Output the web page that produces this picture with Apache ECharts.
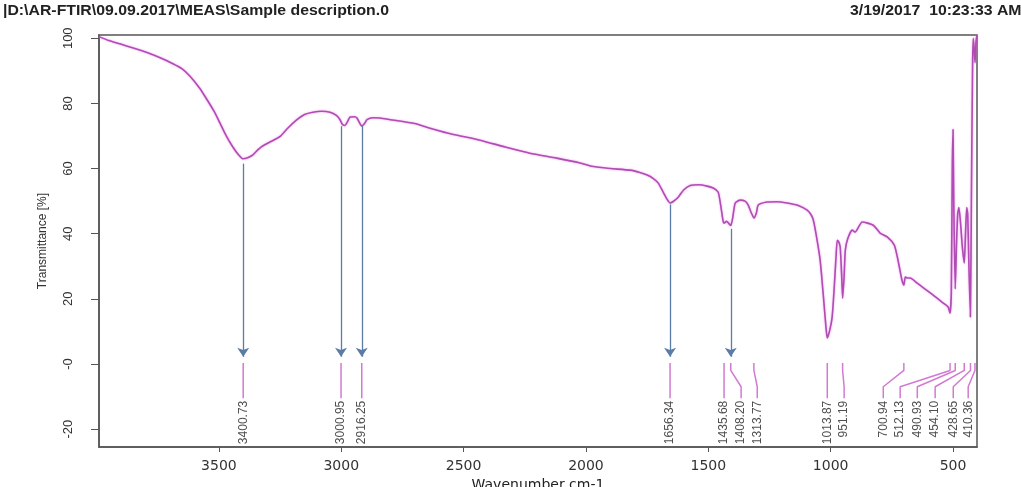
<!DOCTYPE html>
<html>
<head>
<meta charset="utf-8">
<script src="https://cdn.jsdelivr.net/npm/echarts@6/dist/echarts.min.js"></script>
<style>
  html, body { margin: 0; padding: 0; background: #fff; }
  #chart { width: 1021px; height: 487px; }
</style>
</head>
<body>
<div id="chart"></div>
<script>
// spectrum (wavenumber, transmittance %)
const wavenumbers = [3990, 3950, 3905, 3850, 3794, 3740, 3688, 3650, 3619, 3580, 3549, 3520, 3496, 3470, 3443, 3420, 3402, 3380, 3361, 3340,
  3320, 3290, 3251, 3220, 3181, 3150, 3116, 3080, 3046, 3020, 3005, 2995, 2985, 2975, 2964, 2945, 2936, 2925, 2916, 2905,
  2895, 2870, 2842, 2800, 2700, 2637, 2550, 2433, 2330, 2229, 2120, 2024, 1971, 1900, 1820, 1780, 1750, 1726, 1705, 1685,
  1668, 1656, 1645, 1623, 1600, 1574, 1540, 1505, 1480, 1460, 1450, 1440, 1436, 1425, 1415, 1408, 1400, 1390, 1370, 1350,
  1337, 1325, 1313, 1303, 1296, 1260, 1220, 1178, 1130, 1096, 1080, 1071, 1060, 1043, 1030, 1020, 1014, 1005, 994, 985,
  978, 973, 967, 961, 955, 951, 945, 940, 930, 912, 900, 871, 826, 798, 769, 740, 728, 716, 708, 701,
  695, 688, 675, 646, 593, 540, 520, 512, 507, 503, 500, 497, 491, 486, 481, 476, 470, 462, 454, 449,
  444, 440, 435, 429, 425, 420, 417, 413, 410, 406, 402];
const transmittance = [100.5, 99.3, 98.3, 97.0, 95.6, 94.0, 92.2, 90.6, 88.4, 84.8, 81.2, 77.6, 74.0, 70.0, 66.6, 64.2, 63.0, 63.4, 64.2, 65.8,
  67.0, 68.2, 69.8, 72.3, 75.0, 76.6, 77.3, 77.6, 77.3, 76.3, 75.0, 73.5, 73.2, 74.3, 75.8, 75.9, 75.5, 74.0, 73.0, 73.8,
  75.0, 75.6, 75.5, 75.0, 73.8, 72.4, 70.6, 68.7, 66.6, 64.7, 63.2, 61.7, 60.6, 60.0, 59.5, 58.8, 58.0, 57.0, 55.6, 52.8,
  50.5, 49.4, 49.8, 51.2, 53.5, 54.8, 55.0, 54.6, 54.0, 52.8, 49.0, 44.0, 43.2, 43.8, 43.0, 42.5, 45.0, 49.4, 50.3, 50.0,
  48.8, 46.5, 44.8, 46.5, 48.8, 49.7, 49.8, 49.4, 48.6, 47.2, 45.8, 44.2, 40.0, 31.9, 21.0, 12.0, 8.0, 10.0, 14.4, 24.0,
  33.0, 38.0, 37.5, 35.9, 27.0, 20.2, 27.0, 35.0, 38.5, 41.1, 40.5, 43.6, 42.6, 40.2, 39.0, 36.5, 33.0, 28.5, 25.5, 24.2,
  26.7, 26.4, 26.4, 24.8, 21.8, 18.7, 17.5, 15.6, 22.0, 60.0, 72.0, 50.0, 23.0, 36.0, 46.0, 48.0, 44.0, 36.0, 31.0, 40.0,
  48.0, 46.0, 30.0, 14.4, 50.0, 92.0, 100.0, 96.0, 92.5, 99.0, 101.0];

// picked peaks
const peakPositions = [3400.73, 3000.95, 2916.25, 1656.34, 1435.68, 1408.20, 1313.77, 1013.87, 951.19, 700.94, 512.13, 490.93, 454.10, 428.65, 410.36];
const peakLabels = ['3400.73', '3000.95', '2916.25', '1656.34', '1435.68', '1408.20', '1313.77', '1013.87', '951.19', '700.94', '512.13', '490.93', '454.10', '428.65', '410.36'];
const labelWavenumbers = [3400.73, 3000.95, 2916.25, 1656.34, 1435.68, 1366, 1300, 1013.87, 945, 785, 716, 646, 573, 499, 438];

// arrows
const arrowPeaks = [3400.73, 3000.95, 2916.25, 1656.34, 1408.20];
const arrowTops = [61.5, 73, 73, 49, 41.5];

// ticks
const xTickValues = [500, 1000, 1500, 2000, 2500, 3000, 3500];
const yTickValues = [-20, 0, 20, 40, 60, 80, 100];
const yTickLabels = ['-20', '-0', '20', '40', '60', '80', '100'];

const sans = "'Liberation Sans', Arial, sans-serif";
const axisColor = '#555';

let myChart = echarts.init(document.getElementById('chart'));

let series = [];

// spectrum
series.push({
  name: 'spectrum',
  type: 'line',
  data: wavenumbers.map((w, i) => [w, transmittance[i]]),
  symbol: 'none',
  smooth: 0.2,
  z: 3,
  lineStyle: { color: '#b04cb4', width: 1.6, shadowColor: 'rgba(230,110,230,0.7)', shadowBlur: 2 },
  markLine: {
    silent: true,
    symbol: ['none', 'arrow'],
    symbolSize: 9,
    label: { show: false },
    lineStyle: { color: '#5a7ca6', width: 1.3, type: 'solid' },
    data: arrowPeaks.map((w, i) => [{ coord: [w, arrowTops[i]] }, { coord: [w, 2.2] }])
  }
});

// leader lines under the peak labels
for (let i = 0; i < peakPositions.length; i++) {
  let w = peakPositions[i];
  let lw = labelWavenumbers[i];
  let pts = lw === w
    ? [[w, 0.3], [w, -10.5]]
    : [[w, 0.3], [w, -2], [lw, -7], [lw, -10.5]];
  series.push({
    type: 'line',
    data: pts,
    symbol: 'none',
    silent: true,
    z: 2,
    lineStyle: { color: '#d27ad2', width: 1.5 }
  });
}

// peak labels
series.push({
  type: 'scatter',
  data: peakLabels.map((t, i) => [labelWavenumbers[i], -11.3, t]),
  symbolSize: 1,
  itemStyle: { color: 'rgba(0,0,0,0)' },
  silent: true,
  label: {
    show: true,
    position: 'inside',
    rotate: 90,
    align: 'right',
    verticalAlign: 'middle',
    formatter: p => p.value[2],
    fontSize: 12,
    fontFamily: sans,
    color: '#222'
  }
});

let option = {
  animation: false,
  backgroundColor: '#fff',
  grid: {
    left: 99, right: 44, top: 35, bottom: 40,
    outerBoundsMode: 'none',
    show: true, borderColor: axisColor, borderWidth: 1.5, backgroundColor: 'transparent'
  },
  xAxis: {
    type: 'value',
    inverse: true,
    min: 402,
    max: 3990,
    name: 'Wavenumber cm-1',
    nameLocation: 'middle',
    nameGap: 29,
    nameTextStyle: { fontSize: 14, fontFamily: 'DejaVu Sans', color: '#222' },
    axisLine: { onZero: false, lineStyle: { color: axisColor, width: 1.5 } },
    axisTick: { length: 5, lineStyle: { color: axisColor }, customValues: xTickValues },
    axisLabel: { customValues: xTickValues, margin: 12, fontSize: 14, fontFamily: 'DejaVu Sans', color: '#333', formatter: v => String(v) },
    splitLine: { show: false }
  },
  yAxis: {
    type: 'value',
    min: -25.5,
    max: 101,
    name: 'Transmittance [%]',
    nameLocation: 'middle',
    nameGap: 50,
    nameTextStyle: { fontSize: 12, fontFamily: sans, color: '#333' },
    axisLine: { onZero: false, lineStyle: { color: axisColor, width: 1.5 } },
    axisTick: { length: 8, lineStyle: { color: axisColor }, customValues: yTickValues },
    axisLabel: {
      customValues: yTickValues,
      rotate: 90,
      margin: 24,
      fontSize: 13,
      fontFamily: sans,
      color: '#333',
      formatter: v => yTickLabels[yTickValues.indexOf(v)]
    },
    splitLine: { show: false }
  },
  graphic: [
    { type: 'text', left: 3, top: 4, scaleX: 1.13, style: { text: '|D:\\AR-FTIR\\09.09.2017\\MEAS\\Sample description.0', font: 'bold 14px "Liberation Sans", sans-serif', fill: '#222' } },
    { type: 'text', left: 850, top: 4, scaleX: 1.13, style: { text: '3/19/2017  10:23:33 AM', font: 'bold 14px "Liberation Sans", sans-serif', fill: '#222' } }
  ],
  series: series
};

myChart.setOption(option);
</script>
</body>
</html>
